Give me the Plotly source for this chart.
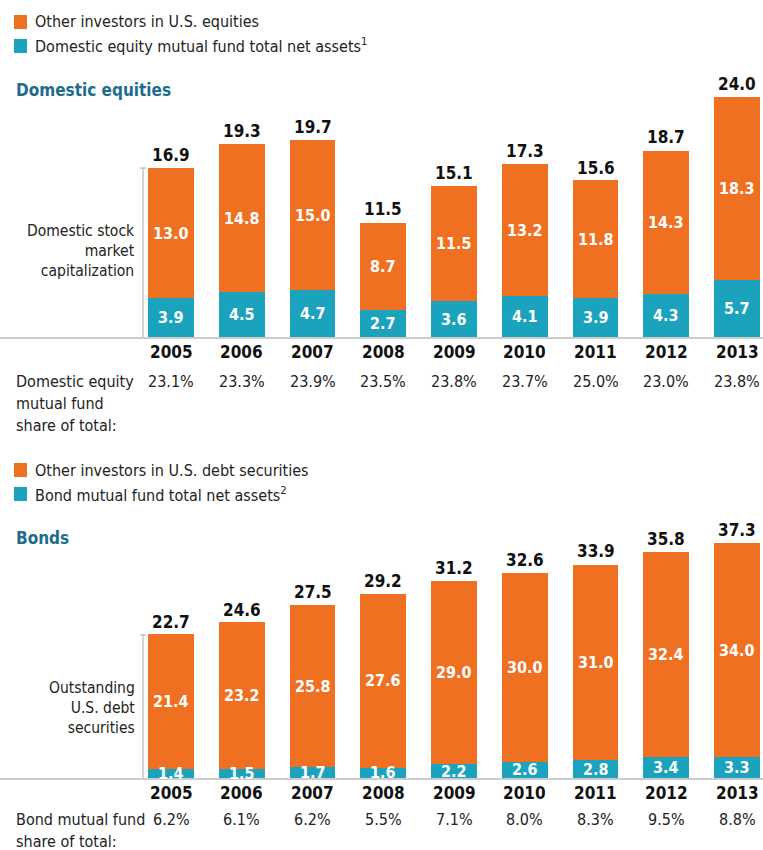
import plotly.graph_objects as go

years = ["2005", "2006", "2007", "2008", "2009", "2010", "2011", "2012", "2013"]
eq_fund = [3.9, 4.5, 4.7, 2.7, 3.6, 4.1, 3.9, 4.3, 5.7]
eq_other = [13.0, 14.8, 15.0, 8.7, 11.5, 13.2, 11.8, 14.3, 18.3]
eq_total = [16.9, 19.3, 19.7, 11.5, 15.1, 17.3, 15.6, 18.7, 24.0]
eq_share = ["23.1%", "23.3%", "23.9%", "23.5%", "23.8%", "23.7%", "25.0%", "23.0%", "23.8%"]

bd_fund = [1.4, 1.5, 1.7, 1.6, 2.2, 2.6, 2.8, 3.4, 3.3]
bd_other = [21.4, 23.2, 25.8, 27.6, 29.0, 30.0, 31.0, 32.4, 34.0]
bd_total = [22.7, 24.6, 27.5, 29.2, 31.2, 32.6, 33.9, 35.8, 37.3]
bd_share = ["6.2%", "6.1%", "6.2%", "5.5%", "7.1%", "8.0%", "8.3%", "9.5%", "8.8%"]

ORANGE = "#F07022"
TEAL = "#1BA3BE"
TITLE = "#1E6C8E"
TXT = "#222222"
FONT = "Liberation Sans Narrow, DejaVu Sans Condensed, Arial Narrow, sans-serif"

W, H = 763, 850
def px(x): return x / W
def py(y): return 1 - y / H

fig = go.Figure()
for xa, ya, fund, other in [("x", "y", eq_fund, eq_other), ("x2", "y2", bd_fund, bd_other)]:
    fig.add_trace(go.Bar(x=years, y=fund, marker=dict(color=TEAL, line=dict(width=0)),
                         xaxis=xa, yaxis=ya, width=0.65, hoverinfo="skip"))
    fig.add_trace(go.Bar(x=years, y=other, marker=dict(color=ORANGE, line=dict(width=0)),
                         xaxis=xa, yaxis=ya, width=0.65, hoverinfo="skip"))

xr = [-171 / 70.75, (763 - 171) / 70.75]
top_base, top_ppu = 337, 10.0
bot_base, bot_ppu = 778, 6.3
top_dom = [py(top_base), py(80)]
bot_dom = [py(bot_base), py(530)]
fig.update_layout(
    width=W, height=H, margin=dict(l=0, r=0, t=0, b=0),
    paper_bgcolor="white", plot_bgcolor="white", barmode="stack", showlegend=False,
    font=dict(family=FONT, color=TXT),
    xaxis=dict(domain=[0, 1], range=xr, showticklabels=False, showgrid=False, zeroline=False, anchor="y", type="category"),
    yaxis=dict(domain=top_dom, range=[0, (top_base - 80) / top_ppu], visible=False, anchor="x"),
    xaxis2=dict(domain=[0, 1], range=xr, showticklabels=False, showgrid=False, zeroline=False, anchor="y2", type="category"),
    yaxis2=dict(domain=bot_dom, range=[0, (bot_base - 530) / bot_ppu], visible=False, anchor="x2"),
)

ann = []
shapes = []

def panel(xa, ya, fund, other, total, share, base_px, legend_y, leg1, leg2, title, side_label, side_y, share_lines, year_y, share_y):
    for i, (txt, col) in enumerate([(leg1, ORANGE), (leg2, TEAL)]):
        yy = legend_y + 24 * i
        shapes.append(dict(type="rect", xref="paper", yref="paper", x0=px(14), x1=px(27),
                           y0=py(yy + 7), y1=py(yy - 7), fillcolor=col, line=dict(width=0)))
        ann.append(dict(xref="paper", yref="paper", x=px(33), y=py(yy), text=txt, showarrow=False,
                        xanchor="left", yanchor="middle", font=dict(size=16, color=TXT)))
    ann.append(dict(xref="paper", yref="paper", x=px(14), y=py(legend_y + 68), text="<b>" + title + "</b>",
                    showarrow=False, xanchor="left", yanchor="middle", font=dict(size=17, color=TITLE)))
    shapes.append(dict(type="line", xref="paper", yref="paper", x0=0, x1=1, y0=py(base_px + 1), y1=py(base_px + 1),
                       line=dict(color="#BBBBBB", width=1.5)))
    shapes.append(dict(type="line", xref="paper", yref=ya, x0=px(143), x1=px(143), y0=0, y1=total[0],
                       line=dict(color="#AAAAAA", width=1)))
    shapes.append(dict(type="line", xref="paper", yref=ya, x0=px(140), x1=px(146), y0=total[0], y1=total[0],
                       line=dict(color="#AAAAAA", width=1)))
    ann.append(dict(xref="paper", yref="paper", x=px(137), y=py(side_y), text=side_label, showarrow=False,
                    xanchor="right", yanchor="middle", align="right", font=dict(size=15.5, color=TXT)))
    for i, yr in enumerate(years):
        ann.append(dict(xref=xa, yref=ya, x=i, y=fund[i] / 2, text="<b>%.1f</b>" % fund[i], showarrow=False,
                        yanchor="middle", font=dict(size=16, color="white")))
        ann.append(dict(xref=xa, yref=ya, x=i, y=fund[i] + other[i] / 2, text="<b>%.1f</b>" % other[i], showarrow=False,
                        yanchor="middle", font=dict(size=16, color="white")))
        ann.append(dict(xref=xa, yref=ya, x=i, y=total[i], text="<b>%.1f</b>" % total[i], showarrow=False,
                        yanchor="bottom", yshift=1, font=dict(size=17, color="#111111")))
        ann.append(dict(xref=xa, yref="paper", x=i, y=py(year_y), text="<b>" + yr + "</b>", showarrow=False,
                        yanchor="middle", font=dict(size=17, color="#111111")))
        ann.append(dict(xref=xa, yref="paper", x=i, y=py(share_y), text=share[i], showarrow=False,
                        yanchor="middle", font=dict(size=16, color=TXT)))
    for j, line in enumerate(share_lines):
        ann.append(dict(xref="paper", yref="paper", x=px(14), y=py(share_y + 22 * j), text=line, showarrow=False,
                        xanchor="left", yanchor="middle", font=dict(size=16, color=TXT)))

panel("x", "y", eq_fund, eq_other, eq_total, eq_share, top_base, 22,
      "Other investors in U.S. equities", "Domestic equity mutual fund total net assets<sup>1</sup>",
      "Domestic equities", "Domestic stock<br>market<br>capitalization", 251,
      ["Domestic equity", "mutual fund", "share of total:"], 352, 381)
panel("x2", "y2", bd_fund, bd_other, bd_total, bd_share, bot_base, 470,
      "Other investors in U.S. debt securities", "Bond mutual fund total net assets<sup>2</sup>",
      "Bonds", "Outstanding<br>U.S. debt<br>securities", 708,
      ["Bond mutual fund", "share of total:"], 793, 819)

fig.update_layout(annotations=ann, shapes=shapes)
fig.write_html("out.html", config={"displayModeBar": False},
               post_script="document.body.style.margin='0px';")
